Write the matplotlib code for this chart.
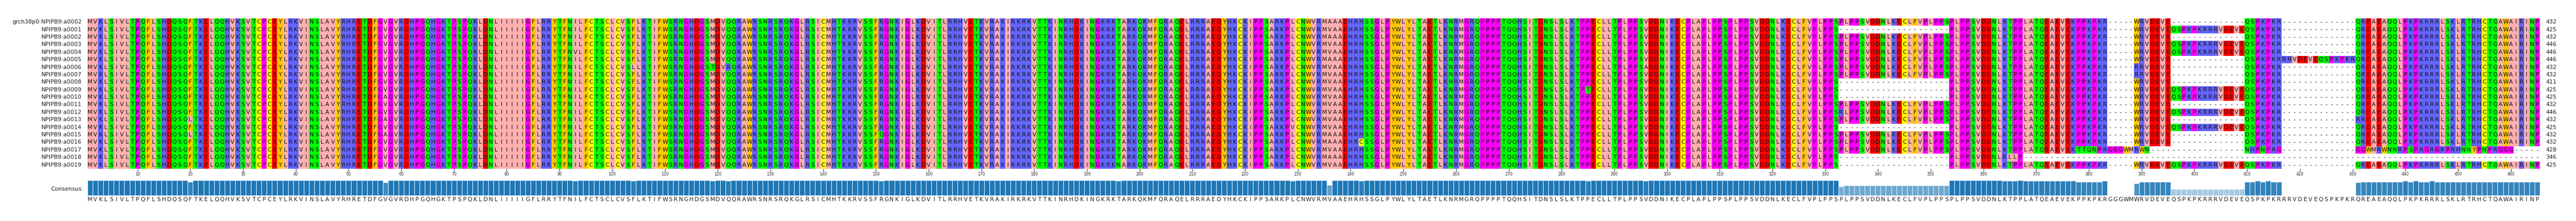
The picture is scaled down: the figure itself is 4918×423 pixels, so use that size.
#!/usr/bin/env python3
import numpy as np
import matplotlib.pyplot as plt
from matplotlib.colors import to_rgb

plt.rcParams["font.family"] = "DejaVu Sans"

# ---------------------------------------------------------
# alignment data
# ---------------------------------------------------------
names = ["grch38p0:NPIPB9:a0002"] + ["NPIPB9:a%04d" % i for i in range(1, 20)]

# full consensus-like column sequence, columns 1..465
full_seq = (
    "MVKLSIVLTPQFLSHDQSQFTKELQQHVKSVTCPCEYLRKVINSLAVYRHRETDFGVGV"
    "RDHPGQHGKTPSPQKLDNLIIIIIGFLRRYTFNILFCTSCLCVSFLKTIFWSRNGHDGS"
    "MDVQQRAWRSNRSRQKGLRSICMHTKKRVSSFRGNKIGLKDVITLRRHVETKVRAKIRKR"
    "KVTTKINRHDKINGKRKTARKQKMFQRAQELRRRAEDYHKCKIPPSARKPLCNWVRMVA"
    "AEHRHSSGLPYWLYLTAETLKNRMGRQPPPPTQQHSITDNSLSLKTPPECLLTPLPPSVD"
    "DNIKECPLAPLPPSPLPPSVDDNLKECLFVPLPPSPLPPSVDDNLKECLFVPLPPSPLPPSVDDNLKTPPLAT"
    "QEAEVEKPPKPKR"
    "-----"
    "WRVDEVEQSPKPKRRRVDEVEQSPKPKR"
    "--------------"
    "QREAEAQQLPKPKRRRLSKLRTRHCTQAWAIRINP"
)

# gap blocks (1-based inclusive columns) and the rows carrying them
repeat_gap = (333, 353)
repeat_gap_rows = [2, 9, 10, 11, 15, 19, 20]
insert_block = (396, 409)
no_insert_rows = [1, 3, 6, 7, 8, 9, 12, 14, 16, 17, 18, 19]

# row 6 extra block, columns 417-430
row6_extra = "RRVDEVEQSPKPKR"
# row 18 divergent tail, columns 377-465
row18_tail = ("KTTQNPRGGGWMRWN" + "-" * 18 + "NHPNPRG" + "-" * 14
              + "GGWMRWNNRPSPRGRGRPRHNNYPNPRGGG" + "-----")
# row 19 truncated
row19_tail = "RLLP" + "-" * 98   # columns 364-465

substitutions = [
    (14, 20, "L"), (16, 20, "L"), (11, 57, "A"), (14, 57, "A"), (16, 57, "A"),
    (5, 93, "V"), (7, 104, "L"), (7, 119, "T"), (7, 122, "R"), (16, 151, "Q"),
    (20, 196, "N"), (15, 229, "V"),
    (1, 236, "A"), (3, 236, "A"), (6, 236, "A"), (16, 236, "A"), (17, 236, "A"), (19, 236, "A"),
    (17, 242, "C"), (10, 285, "T"), (7, 296, "A"), (13, 333, "R"),
    (7, 389, "R"), (8, 389, "R"), (14, 431, "R"),
]

zappo = {
    "ILVAM": "#ffafaf", "FWY": "#ffc800", "KRH": "#6464ff", "DE": "#ff0000",
    "STNQ": "#00ff00", "PG": "#ff00ff", "C": "#ffff00",
}


def build_rows():
    rows = []
    for r in range(1, len(names) + 1):
        s = list(full_seq)
        if r in repeat_gap_rows:
            for c in range(repeat_gap[0], repeat_gap[1] + 1):
                s[c - 1] = "-"
        if r in no_insert_rows:
            for c in range(insert_block[0], insert_block[1] + 1):
                s[c - 1] = "-"
        if r == 6:
            s[416:430] = list(row6_extra)
        if r == 18:
            s[376:465] = list(row18_tail)
        if r == 19:
            s[363:465] = list(row19_tail)
        rows.append(s)
    for r, c, a in substitutions:
        rows[r - 1][c - 1] = a
    return rows


def aa_color(a):
    for k, v in zappo.items():
        if a in k:
            return to_rgb(v)
    return (1.0, 1.0, 1.0)


rows = build_rows()
nrow, ncol = len(rows), len(full_seq)

# consensus and conservation
cons, frac = [], []
for c in range(ncol):
    col = [r[c] for r in rows if r[c] != "-"]
    best = max(sorted(set(col)), key=col.count)
    cons.append(best)
    frac.append(col.count(best) / nrow)

# ---------------------------------------------------------
# plot
# ---------------------------------------------------------
W, H = 4918, 423
fig = plt.figure(figsize=(W / 100, H / 100), dpi=100)
x0, x1 = 167, 4849
ax = fig.add_axes([x0 / W, 0, (x1 - x0) / W, 1])
unit = 14.39                      # row pitch in pixels
ax.set_xlim(0.5, ncol + 0.5)
ax.set_ylim(H / unit, 0)
ax.axis("off")

top = 35 / unit
img = np.array([[aa_color(a) for a in r] for r in rows])
ax.imshow(img, extent=[0.5, ncol + 0.5, top + nrow, top], aspect="auto",
          interpolation="nearest")

for i, r in enumerate(rows):
    y = top + i + 0.5
    for c, a in enumerate(r):
        ax.text(c + 1, y, a, ha="center", va="center", fontsize=7.8,
                color="#111111")
    ax.text(-0.6, y, names[i], ha="right", va="center", fontsize=7.8,
            color="#222222")
    ax.text(ncol + 1.6, y, str(sum(a != "-" for a in r)), ha="left",
            va="center", fontsize=7.8, color="#222222")

# ruler
ticks = np.arange(10, ncol + 1, 10)
ybot = top + nrow
ax.vlines(ticks, ybot, ybot + 0.35, color="#333333", lw=0.8)
for t in ticks:
    ax.text(t, 334 / unit, str(t), ha="center", va="center", fontsize=5.5,
            color="#333333")

# consensus bars
base = 374 / unit
hmax = 29 / unit
c0 = np.array(to_rgb("#1f77b4"))
for c in range(ncol):
    f = frac[c]
    if f <= 0.1:
        continue
    col = 1 - f * (1 - c0)
    ax.bar(c + 1, -f * hmax, bottom=base, width=1.0, color=col,
           edgecolor="#ddeeff", linewidth=0.8)
    ax.text(c + 1, 382 / unit, cons[c], ha="center", va="center",
            fontsize=7.8, color="#222222")
for c in range(ncol):
    if frac[c] <= 0.1:
        ax.text(c + 1, 382 / unit, cons[c], ha="center", va="center",
                fontsize=7.8, color="#222222")
ax.text(-0.6, 362 / unit, "Consensus", ha="right", va="center",
        fontsize=7.8, color="#222222")

fig.savefig("out.png", dpi=100)
